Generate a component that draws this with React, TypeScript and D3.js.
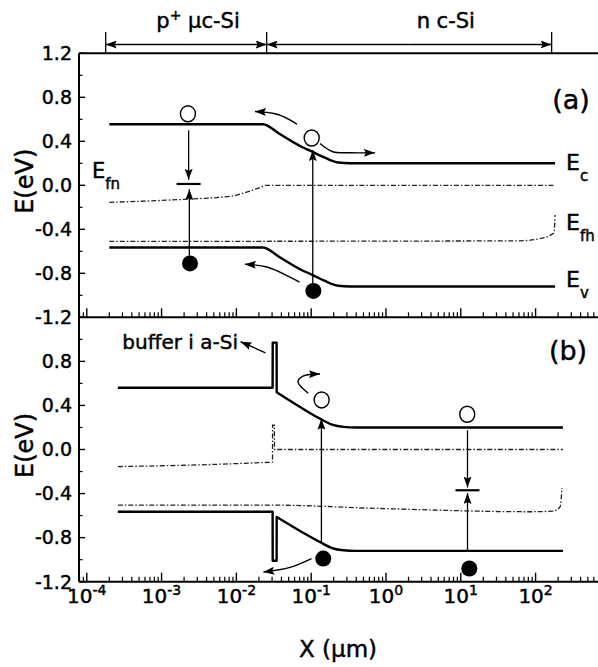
import * as d3 from 'd3';
import React, { useEffect, useRef } from 'react';

type Pt = [number, number];

// band diagram values: x in um, E in eV
const ecA: Pt[] = [[2e-4, 0.555], [0.0227, 0.555], [0.038, 0.466], [0.071, 0.357], [0.10, 0.31], [0.15, 0.253], [0.23, 0.207], [0.33, 0.2], [182, 0.2]];
const evA: Pt[] = [[2e-4, -0.565], [0.0227, -0.565], [0.038, -0.654], [0.071, -0.763], [0.10, -0.81], [0.15, -0.867], [0.23, -0.913], [0.33, -0.92], [182, -0.92]];
const efnA: Pt[] = [[2e-4, -0.155], [2.3e-3, -0.125], [0.0082, -0.1], [0.0207, -0.02], [0.025, 0], [182, 0]];
const efhA: Pt[] = [[2e-4, -0.51], [60, -0.505], [140, -0.47], [178, -0.43], [182, -0.27]];

const ecB: Pt[] = [[2.6e-4, 0.56], [0.0305, 0.56], [0.0306, 0.97], [0.0345, 0.97], [0.0346, 0.52], [0.071, 0.386], [0.131, 0.28], [0.19, 0.225], [0.27, 0.205], [0.4, 0.2], [232, 0.2]];
const evB: Pt[] = [[2.6e-4, -0.565], [0.0305, -0.565], [0.0306, -1.01], [0.0345, -1.01], [0.0346, -0.613], [0.071, -0.74], [0.131, -0.84], [0.19, -0.895], [0.27, -0.915], [0.4, -0.92], [232, -0.92]];
const efnB: Pt[] = [[2.6e-4, -0.155], [0.003, -0.14], [0.0304, -0.115], [0.0305, 0.22], [0.0322, 0.22], [0.0323, 0], [232, 0]];
const efhB: Pt[] = [[2.6e-4, -0.505], [0.03, -0.505], [0.8, -0.535], [84, -0.565], [170, -0.56], [213, -0.52], [225, -0.35]];

// carriers
const holesA: Pt[] = [[2.25e-3, 0.65], [0.1016, 0.43]];
const electronsA: Pt[] = [[2.4e-3, -0.71], [0.107, -0.96]];
const holesB: Pt[] = [[0.138, 0.45], [12.2, 0.32]];
const electronsB: Pt[] = [[0.145, -0.99], [13, -1.08]];

// straight transitions [x, from E, to E]
const jumpsA: [number, number, number][] = [[2.3e-3, 0.5, 0.05], [2.35e-3, -0.64, -0.035], [0.105, -0.89, 0.32]];
const jumpsB: [number, number, number][] = [[0.137, -0.84, 0.28], [12.3, 0.175, -0.345], [12.3, -0.92, -0.395]];
const levelMarksA: Pt[] = [[2.3e-3, 0.012]];
const levelMarksB: Pt[] = [[12.3, -0.37]];

// curved arrows
const curvesA: Pt[][] = [
    [[0.0646, 0.557], [0.036, 0.644], [0.0177, 0.671]],
    [[0.131, 0.38], [0.195, 0.305], [0.33, 0.296], [0.71, 0.296]],
    [[0.07, -0.88], [0.052, -0.834], [0.0257, -0.743], [0.013, -0.718]]
];
const curvesB: Pt[][] = [
    [[0.0915, 0.51], [0.0666, 0.615], [0.0777, 0.666], [0.131, 0.685]],
    [[0.101, -0.99], [0.052, -1.07], [0.0229, -1.113]],
    [[0.0245, 0.878], [0.0114, 0.978]]
];

// region markers on top
const regionEdges = [1.79e-4, 0.0254, 164];
const regionLabels = [{ base: 'p', sup: '+', rest: ' \u03bcc-Si', at: 3.07e-3 }, { base: 'n c-Si', sup: '', rest: '', at: 6.3 }];

const yTickValues = [1.2, 0.8, 0.4, 0.0, -0.4, -0.8, -1.2];
const yMinorValues = [1.0, 0.6, 0.2, -0.2, -0.6, -1.0];
const xTickExps = [-4, -3, -2, -1, 0, 1, 2];

const FONT = 'DejaVu Sans';

export default function App() {
    const ref = useRef<SVGSVGElement | null>(null);

    useEffect(() => {
        const svg = d3.select(ref.current);
        svg.selectAll('*').remove();

        const x = d3.scaleLog().domain([10 ** -4.104, 1e3]).range([79, 79 + 7.104 * 74.8]);
        const yA = d3.scaleLinear().domain([-1.2, 1.2]).range([317.3, 53.3]);
        const yB = d3.scaleLinear().domain([-1.2, 1.2]).range([581.7, 317.3]);

        const defs = svg.append('defs');
        defs.append('marker')
            .attr('id', 'ah')
            .attr('markerUnits', 'userSpaceOnUse')
            .attr('markerWidth', 12).attr('markerHeight', 8)
            .attr('refX', 11).attr('refY', 4)
            .attr('orient', 'auto')
            .append('path').attr('d', 'M0,0L11,4L0,8L2,4z').attr('fill', '#000');

        const ink = svg.append('g');

        // frame
        const frame = [[79, 53.3, 598, 53.3], [79, 317.3, 598, 317.3], [79, 581.7, 598, 581.7], [79, 53.3, 79, 581.7]];
        frame.forEach(f => {
            ink.append('line').attr('x1', f[0]).attr('y1', f[1]).attr('x2', f[2]).attr('y2', f[3])
                .attr('stroke', '#000').attr('stroke-width', 2);
        });

        // x ticks on both bottom lines
        const minors: number[] = [];
        for (let e = -5; e <= 3; e++) for (let m = 2; m <= 9; m++) minors.push(m * 10 ** e);
        const [d0, d1] = x.domain();
        [317.3, 581.7].forEach(yb => {
            minors.filter(v => v > d0 && v < d1).forEach(v => {
                ink.append('line').attr('x1', x(v)).attr('x2', x(v)).attr('y1', yb).attr('y2', yb - 5)
                    .attr('stroke', '#000').attr('stroke-width', 1.2);
            });
            xTickExps.concat([3]).forEach(e => {
                ink.append('line').attr('x1', x(10 ** e)).attr('x2', x(10 ** e)).attr('y1', yb).attr('y2', yb - 9)
                    .attr('stroke', '#000').attr('stroke-width', 1.4);
            });
        });

        // x tick labels
        xTickExps.forEach(e => {
            const t = ink.append('text')
                .attr('x', x(10 ** e)).attr('y', 603)
                .attr('text-anchor', 'middle')
                .style('font-family', FONT).style('font-size', '20px');
            t.append('tspan').text('10');
            t.append('tspan').attr('dy', -8).style('font-size', '14px').text(String(e));
        });

        // y ticks
        [yA, yB].forEach((y, pi) => {
            yTickValues.forEach(v => {
                ink.append('line').attr('x1', 79).attr('x2', 85).attr('y1', y(v)).attr('y2', y(v))
                    .attr('stroke', '#000').attr('stroke-width', 1.4);
            });
            yMinorValues.forEach(v => {
                ink.append('line').attr('x1', 79).attr('x2', 82.5).attr('y1', y(v)).attr('y2', y(v))
                    .attr('stroke', '#000').attr('stroke-width', 1.2);
            });
            yTickValues.filter(v => !(pi === 1 && v === 1.2)).forEach(v => {
                ink.append('text')
                    .attr('x', 72).attr('y', y(v)).attr('dy', '0.36em')
                    .attr('text-anchor', 'end')
                    .style('font-family', FONT).style('font-size', '19px')
                    .text(v.toFixed(1));
            });
            ink.append('text')
                .attr('transform', `translate(33, ${y(0) - 4}) rotate(-90)`)
                .attr('text-anchor', 'middle')
                .style('font-family', FONT).style('font-size', '24px')
                .text('E(eV)');
        });

        ink.append('text')
            .attr('x', 338).attr('y', 657)
            .attr('text-anchor', 'middle')
            .style('font-family', FONT).style('font-size', '23px')
            .text('X (\u03bcm)');

        // region arrows
        const ry = 44.5;
        regionEdges.forEach(v => {
            ink.append('line').attr('x1', x(v)).attr('x2', x(v)).attr('y1', 32).attr('y2', 52.5)
                .attr('stroke', '#000').attr('stroke-width', 1.3);
        });
        d3.pairs(regionEdges).forEach(([a, b]) => {
            const mid = (x(a) + x(b)) / 2;
            [[mid, x(a)], [mid, x(b)]].forEach(([s, t]) => {
                ink.append('line').attr('x1', s).attr('x2', t).attr('y1', ry).attr('y2', ry)
                    .attr('stroke', '#000').attr('stroke-width', 1.3)
                    .attr('marker-end', 'url(#ah)');
            });
        });
        regionLabels.forEach(r => {
            const t = ink.append('text').attr('x', x(r.at)).attr('y', 28)
                .attr('text-anchor', 'middle')
                .style('font-family', FONT).style('font-size', '21px');
            t.append('tspan').text(r.base);
            if (r.sup) {
                t.append('tspan').attr('dy', -8).style('font-size', '14px').text(r.sup);
                t.append('tspan').attr('dy', 8).text(r.rest);
            }
        });

        const drawPanel = (y: d3.ScaleLinear<number, number>, bands: Pt[][], levels: Pt[][],
                           holes: Pt[], electrons: Pt[], jumps: [number, number, number][],
                           marks: Pt[], curves: Pt[][]) => {
            const line = d3.line<Pt>().x(d => x(d[0])).y(d => y(d[1])).curve(d3.curveMonotoneX);
            // smooth runs, joined by straight pieces where the curve jumps vertically
            const bandPath = (pts: Pt[]) => {
                const runs: Pt[][] = [[pts[0]]];
                for (let i = 1; i < pts.length; i++) {
                    if (x(pts[i][0]) - x(pts[i - 1][0]) < 1) runs.push([pts[i]]);
                    else runs[runs.length - 1].push(pts[i]);
                }
                return runs.map((r, i) => {
                    const d = r.length > 1 ? line(r)! : `M${x(r[0][0])},${y(r[0][1])}`;
                    return i === 0 ? d : 'L' + d.slice(1);
                }).join('');
            };
            const g = ink.append('g');
            levels.forEach(l => {
                g.append('path').attr('d', bandPath(l)).attr('fill', 'none')
                    .attr('stroke', '#222').attr('stroke-width', 1.3)
                    .attr('stroke-dasharray', '5 2 1.5 2');
            });
            bands.forEach(b => {
                g.append('path').attr('d', bandPath(b)).attr('fill', 'none')
                    .attr('stroke', '#000').attr('stroke-width', 2.4)
                    .attr('stroke-linejoin', 'round');
            });
            jumps.forEach(([xv, e0, e1]) => {
                g.append('line').attr('x1', x(xv)).attr('x2', x(xv)).attr('y1', y(e0)).attr('y2', y(e1))
                    .attr('stroke', '#000').attr('stroke-width', 1.3)
                    .attr('marker-end', 'url(#ah)');
            });
            marks.forEach(([xv, e]) => {
                g.append('line').attr('x1', x(xv) - 12).attr('x2', x(xv) + 12).attr('y1', y(e)).attr('y2', y(e))
                    .attr('stroke', '#000').attr('stroke-width', 2.2);
            });
            const arc = d3.line<Pt>().x(d => x(d[0])).y(d => y(d[1])).curve(d3.curveCatmullRom);
            curves.forEach(c => {
                g.append('path').attr('d', arc(c)).attr('fill', 'none')
                    .attr('stroke', '#000').attr('stroke-width', 1.4)
                    .attr('marker-end', 'url(#ah)');
            });
            holes.forEach(([xv, e]) => {
                g.append('ellipse').attr('cx', x(xv)).attr('cy', y(e)).attr('rx', 7.5).attr('ry', 8)
                    .attr('fill', '#fff').attr('stroke', '#000').attr('stroke-width', 1.4);
            });
            electrons.forEach(([xv, e]) => {
                g.append('circle').attr('cx', x(xv)).attr('cy', y(e)).attr('r', 8).attr('fill', '#000');
            });
        };

        drawPanel(yA, [ecA, evA], [efnA, efhA], holesA, electronsA, jumpsA, levelMarksA, curvesA);
        drawPanel(yB, [ecB, evB], [efnB, efhB], holesB, electronsB, jumpsB, levelMarksB, curvesB);

        // level names in panel (a)
        const sub = (px: number, py: number, main: string, s: string, size: number) => {
            const t = ink.append('text').attr('x', px).attr('y', py)
                .style('font-family', FONT).style('font-size', `${size}px`);
            t.append('tspan').text(main);
            t.append('tspan').attr('dy', 11).style('font-size', '15px').text(s);
        };
        sub(92, 178, 'E', 'fn', 21);
        sub(566, 170, 'E', 'c', 22);
        sub(566, 230, 'E', 'fh', 22);
        sub(566, 287, 'E', 'v', 22);

        ink.append('text').attr('x', 571).attr('y', 109).attr('text-anchor', 'middle')
            .style('font-family', FONT).style('font-size', '27px').text('(a)');
        ink.append('text').attr('x', 568).attr('y', 360).attr('text-anchor', 'middle')
            .style('font-family', FONT).style('font-size', '27px').text('(b)');

        ink.append('text').attr('x', x(0.0105)).attr('y', yB(0.98)).attr('dy', '0.35em')
            .attr('text-anchor', 'end')
            .style('font-family', FONT).style('font-size', '20px')
            .text('buffer i a-Si');

        // scanned print is heavy: thicken the lettering a little
        ink.selectAll('text').attr('stroke', '#000').attr('stroke-width', 0.45);
    }, []);

    return (
        <div>
            <svg ref={ref} width={598} height={667}
                 style={{ position: 'absolute', left: 0, top: 0, background: '#fff' }} />
        </div>
    );
}
